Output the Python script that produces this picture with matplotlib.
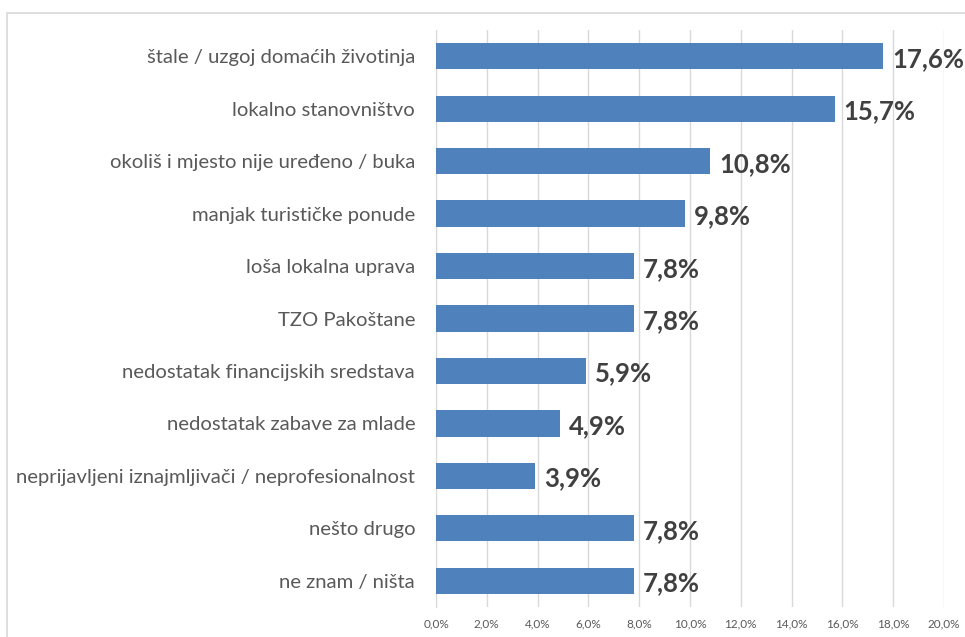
import matplotlib.pyplot as plt
from matplotlib.patches import Rectangle
from matplotlib.ticker import FuncFormatter, MultipleLocator

categories = [
    'štale / uzgoj domaćih životinja',
    'lokalno stanovništvo',
    'okoliš i mjesto nije uređeno / buka',
    'manjak turističke ponude',
    'loša lokalna uprava',
    'TZO Pakoštane',
    'nedostatak financijskih sredstava',
    'nedostatak zabave za mlade',
    'neprijavljeni iznajmljivači / neprofesionalnost',
    'nešto drugo',
    'ne znam / ništa',
]
values = [17.6, 15.7, 10.8, 9.8, 7.8, 7.8, 5.9, 4.9, 3.9, 7.8, 7.8]

plt.rcParams['font.family'] = ['Lato', 'DejaVu Sans']

fig = plt.figure(figsize=(9.65, 6.37), dpi=100)
fig.patches.append(Rectangle((7 / 965, -0.1), 1.2, (637 - 13) / 637 + 0.1,
                             transform=fig.transFigure, fill=False,
                             edgecolor='#d9d9d9', linewidth=1.2))

ax = fig.add_axes([436 / 965, 1 - 607 / 637, (944 - 436) / 965, (607 - 30) / 637])

pos = list(range(len(categories)))
ax.barh(pos, values, height=0.5, color='#4f81bd', zorder=3)

for y, v in zip(pos, values):
    ax.text(v + 0.35, y + 0.05, f'{v:.1f}%'.replace('.', ','), va='center', ha='left',
            fontsize=18.5, fontweight='bold', color='#404040')

ax.set_ylim(len(categories) - 0.5, -0.5)
ax.set_xlim(0, 20)
ax.set_yticks(pos)
ax.set_yticklabels(categories, fontsize=14.6, color='#595959')
ax.xaxis.set_major_locator(MultipleLocator(2))
ax.xaxis.set_major_formatter(FuncFormatter(lambda x, _: f'{x:.1f}%'.replace('.', ',')))
ax.tick_params(axis='x', labelsize=8.5, labelcolor='#595959', length=0, pad=8)
ax.tick_params(axis='y', length=0, pad=15)

ax.grid(axis='x', color='#d9d9d9', linewidth=1, zorder=0)
for s in ['top', 'right', 'bottom']:
    ax.spines[s].set_visible(False)
ax.spines['left'].set_color('#d9d9d9')

fig.savefig('out.png')
